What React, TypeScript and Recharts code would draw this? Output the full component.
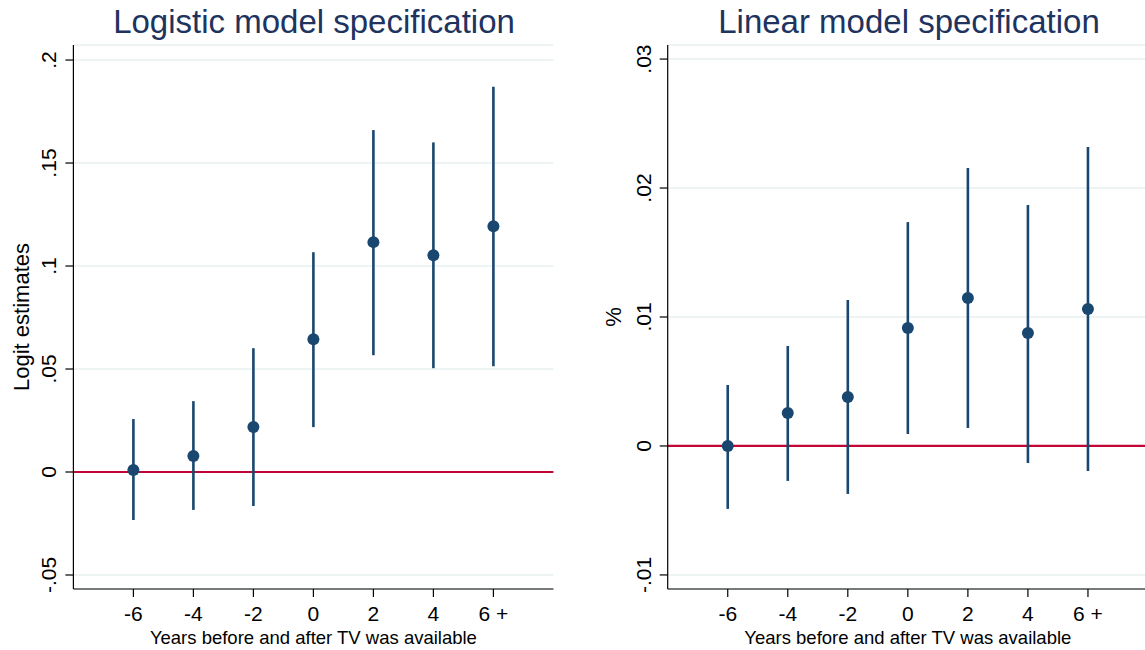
import {
  ComposedChart,
  Scatter,
  ErrorBar,
  XAxis,
  YAxis,
  CartesianGrid,
  ReferenceLine,
  Label
} from 'recharts'

// years relative to TV availability (last bucket is "6 +")
const years = [-6, -4, -2, 0, 2, 4, 6]
const yearLabels = ['-6', '-4', '-2', '0', '2', '4', '6 +']

// logistic model: point estimate and 95% CI
const logitEst = [0.001, 0.0078, 0.0218, 0.0645, 0.1116, 0.1052, 0.1193]
const logitLo = [-0.0233, -0.0184, -0.0165, 0.0218, 0.0567, 0.0504, 0.0514]
const logitHi = [0.0257, 0.0344, 0.0601, 0.1067, 0.166, 0.16, 0.187]
const logitTicks = [-0.05, 0, 0.05, 0.1, 0.15, 0.2]
const logitTickLabels = ['-.05', '0', '.05', '.1', '.15', '.2']

// linear model: point estimate and 95% CI
const linEst = [0, 0.00256, 0.0038, 0.00915, 0.01147, 0.00876, 0.01062]
const linLo = [-0.00488, -0.00271, -0.00372, 0.00093, 0.0014, -0.00132, -0.00194]
const linHi = [0.00473, 0.00775, 0.01132, 0.01736, 0.02155, 0.01868, 0.02318]
const linTicks = [-0.01, 0, 0.01, 0.02, 0.03]
const linTickLabels = ['-.01', '0', '.01', '.02', '.03']

const NAVY = '#1a476f'
const RED = '#c10534'
const GRID = '#e8f0f1'
const FONT = '"Liberation Sans", Arial, sans-serif'

function rows(est: number[], lo: number[], hi: number[]) {
  return years.map((x, i) => ({ x, y: est[i], err: [est[i] - lo[i], hi[i] - est[i]] }))
}

function pick(ticks: number[], labels: string[], v: number) {
  let best = 0
  ticks.forEach((t, i) => {
    if (Math.abs(t - v) < Math.abs(ticks[best] - v)) best = i
  })
  return labels[best]
}

function XTick(props: any) {
  const { x, y, payload } = props
  return (
    <text x={x} y={y + 22} textAnchor="middle" fontSize={21} fontFamily={FONT} fill="#000">
      {pick(years, yearLabels, payload.value)}
    </text>
  )
}

function makeYTick(ticks: number[], labels: string[]) {
  return (props: any) => {
    const { x, y, payload } = props
    const bx = x - 7
    return (
      <text
        x={bx}
        y={y}
        transform={`rotate(-90 ${bx} ${y})`}
        textAnchor="middle"
        fontSize={21}
        fontFamily={FONT}
        fill="#000"
      >
        {pick(ticks, labels, payload.value)}
      </text>
    )
  }
}

interface PanelProps {
  left: number
  width: number
  marginRight: number
  yWidth: number
  yTitleX: number
  yTitle: string
  domain: [number, number]
  ticks: number[]
  tickLabels: string[]
  data: { x: number; y: number; err: number[] }[]
}

function Panel(p: PanelProps) {
  return (
    <div style={{ position: 'absolute', left: p.left, top: 0 }}>
      <ComposedChart
        width={p.width}
        height={650}
        data={p.data}
        margin={{ top: 45, right: p.marginRight, bottom: 0, left: 0 }}
      >
        <CartesianGrid vertical={false} stroke={GRID} strokeWidth={1.5} />
        <XAxis
          type="number"
          dataKey="x"
          domain={[-8, 8]}
          ticks={years}
          allowDataOverflow
          height={61}
          tickSize={8}
          tick={<XTick />}
          axisLine={{ stroke: '#000', strokeWidth: 1.2 }}
          tickLine={{ stroke: '#000', strokeWidth: 1.2 }}
        >
          <Label
            content={(lp: any) => {
              const vb = lp.viewBox
              return (
                <text
                  x={vb.x + vb.width / 2}
                  y={vb.y + 55}
                  textAnchor="middle"
                  fontSize={18.5}
                  fontFamily={FONT}
                  fill="#000"
                >
                  Years before and after TV was available
                </text>
              )
            }}
          />
        </XAxis>
        <YAxis
          type="number"
          dataKey="y"
          domain={p.domain}
          ticks={p.ticks}
          allowDataOverflow
          width={p.yWidth}
          tickSize={8}
          tick={makeYTick(p.ticks, p.tickLabels)}
          axisLine={{ stroke: '#000', strokeWidth: 1.2 }}
          tickLine={{ stroke: '#000', strokeWidth: 1.2 }}
        >
          <Label
            content={(lp: any) => {
              const vb = lp.viewBox
              const tx = vb.x + p.yTitleX
              const ty = vb.y + vb.height / 2
              return (
                <text
                  x={tx}
                  y={ty}
                  transform={`rotate(-90 ${tx} ${ty})`}
                  textAnchor="middle"
                  fontSize={22}
                  fontFamily={FONT}
                  fill="#000"
                >
                  {p.yTitle}
                </text>
              )
            }}
          />
        </YAxis>
        <ReferenceLine y={0} stroke={RED} strokeWidth={2.2} />
        <Scatter
          dataKey="y"
          isAnimationActive={false}
          shape={(sp: any) => <circle cx={sp.cx} cy={sp.cy} r={6} fill={NAVY} />}
        >
          <ErrorBar
            dataKey="err"
            direction="y"
            width={0}
            stroke={NAVY}
            strokeWidth={2.6}
            isAnimationActive={false}
          />
        </Scatter>
      </ComposedChart>
    </div>
  )
}

export default function App() {
  return (
    <div
      style={{
        position: 'fixed',
        left: 0,
        top: 0,
        width: 1145,
        height: 650,
        overflow: 'hidden',
        background: '#fff'
      }}
    >
      <Panel
        left={0}
        width={570}
        marginRight={16.6}
        yWidth={73.4}
        yTitleX={29}
        yTitle="Logit estimates"
        domain={[-0.0568, 0.2073]}
        ticks={logitTicks}
        tickLabels={logitTickLabels}
        data={rows(logitEst, logitLo, logitHi)}
      />
      <Panel
        left={580}
        width={568}
        marginRight={0}
        yWidth={87.7}
        yTitleX={41}
        yTitle="%"
        domain={[-0.01109, 0.03109]}
        ticks={linTicks}
        tickLabels={linTickLabels}
        data={rows(linEst, linLo, linHi)}
      />
      <svg
        width={1145}
        height={650}
        style={{ position: 'absolute', left: 0, top: 0, pointerEvents: 'none' }}
      >
        <text x={314} y={33} textAnchor="middle" fontSize={33} fontFamily={FONT} fill="#20335f">
          Logistic model specification
        </text>
        <text x={909} y={33} textAnchor="middle" fontSize={33} fontFamily={FONT} fill="#20335f">
          Linear model specification
        </text>
      </svg>
    </div>
  )
}
